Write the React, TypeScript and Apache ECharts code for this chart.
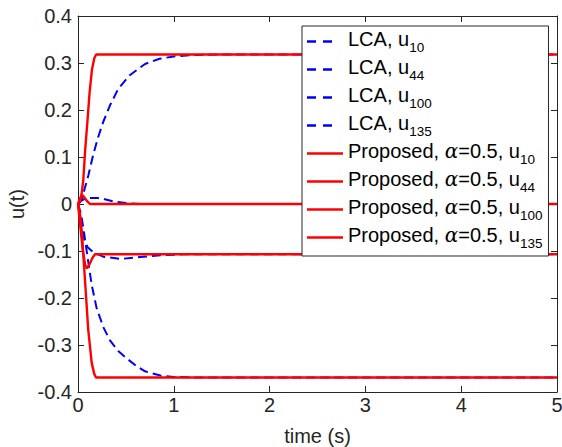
import React, { useEffect, useRef } from "react";
import * as echarts from "echarts";

// ---- data (time in s, value) ----
const lcaU10: [number, number][] = [
  [0, 0], [0.04, 0.01], [0.07, 0.033], [0.107, 0.06], [0.16, 0.106], [0.21, 0.142],
  [0.264, 0.175], [0.334, 0.21], [0.42, 0.245], [0.54, 0.274], [0.7, 0.298],
  [0.85, 0.309], [1.0, 0.314], [1.2, 0.317], [1.5, 0.318], [5, 0.318],
];
const lcaU44: [number, number][] = [
  [0, 0], [0.04, 0.008], [0.1, 0.013], [0.2, 0.013], [0.28, 0.01], [0.38, 0.005],
  [0.5, 0.002], [0.65, 0], [5, 0],
];
const lcaU100: [number, number][] = [
  [0, 0], [0.03, -0.035], [0.055, -0.07], [0.1, -0.092], [0.16, -0.103], [0.264, -0.112],
  [0.44, -0.117], [0.65, -0.113], [0.86, -0.109], [1.1, -0.107], [5, -0.107],
];
const lcaU135: [number, number][] = [
  [0, 0], [0.03, -0.02], [0.055, -0.05], [0.107, -0.123], [0.143, -0.172], [0.195, -0.222],
  [0.23, -0.242], [0.264, -0.262], [0.334, -0.29], [0.42, -0.313], [0.5, -0.327],
  [0.61, -0.345], [0.7, -0.356], [0.86, -0.365], [1.0, -0.368], [1.2, -0.369], [5, -0.369],
];
const propU10: [number, number][] = [
  [0, 0], [0.02, 0.005], [0.04, 0.025], [0.055, 0.05], [0.075, 0.115], [0.1, 0.18],
  [0.12, 0.235], [0.145, 0.285], [0.17, 0.31], [0.19, 0.318], [5, 0.318],
];
const propU44: [number, number][] = [
  [0, 0], [0.02, 0.012], [0.045, 0.019], [0.07, 0.013], [0.1, 0.005], [0.125, 0], [5, 0],
];
const propU100: [number, number][] = [
  [0, 0], [0.02, -0.04], [0.05, -0.098], [0.075, -0.13], [0.095, -0.137], [0.12, -0.128],
  [0.15, -0.115], [0.177, -0.107], [5, -0.107],
];
const propU135: [number, number][] = [
  [0, 0], [0.02, -0.02], [0.038, -0.055], [0.073, -0.162], [0.107, -0.268], [0.143, -0.338],
  [0.17, -0.362], [0.188, -0.369], [5, -0.369],
];

const subscripts = ["10", "44", "100", "135"];
const lcaNames = subscripts.map((s) => `LCA, u${s}`);
const propNames = subscripts.map((s) => `Proposed, α=0.5, u${s}`);
const lcaData = [lcaU10, lcaU44, lcaU100, lcaU135];
const propData = [propU10, propU44, propU100, propU135];

const xMin = 0, xMax = 5, xInterval = 1;
const yMin = -0.4, yMax = 0.4, yInterval = 0.1;

const SANS = "'Liberation Sans', Arial, Helvetica, sans-serif";
const AXIS_COLOR = "#262626";
const BLUE = "#0000FF";
const RED = "#FF0000";

const DASH_ICON = "path://M0,0h9v2h-9z M16,0h9v2h-9z M36,0h0.01v0.01h-0.01z";
const SOLID_ICON = "path://M0,0h36v2h-36z";

const legendLabel: Record<string, string> = {};
subscripts.forEach((s, i) => {
  legendLabel[lcaNames[i]] = `{m|LCA, u}{s|${s}}`;
  legendLabel[propNames[i]] = `{m|Proposed, }{g|α}{m|=0.5, u}{s|${s}}`;
});

export default function App() {
  const ref = useRef<HTMLDivElement>(null);
  useEffect(() => {
    const chart = echarts.init(ref.current!, null, { renderer: "svg" });
    const series: any[] = [];
    lcaData.forEach((d, i) =>
      series.push({
        name: lcaNames[i],
        type: "line",
        data: d,
        symbol: "none",
        showSymbol: false,
        z: 2,
        itemStyle: { color: BLUE },
        lineStyle: { color: BLUE, width: 2, type: [9, 5] },
      })
    );
    propData.forEach((d, i) =>
      series.push({
        name: propNames[i],
        type: "line",
        data: d,
        symbol: "none",
        showSymbol: false,
        z: 3,
        itemStyle: { color: RED },
        lineStyle: { color: RED, width: 2.4 },
      })
    );
    const axisLine = { show: true, onZero: false, lineStyle: { color: AXIS_COLOR, width: 1 } };
    const axisTick = { show: true, inside: true, length: 6, lineStyle: { color: AXIS_COLOR } };
    chart.setOption({
      animation: false,
      backgroundColor: "#ffffff",
      grid: { left: 78, right: 5, top: 16, bottom: 55, containLabel: false, outerBoundsMode: "none" },
      xAxis: [
        {
          type: "value", min: xMin, max: xMax, interval: xInterval,
          name: "time (s)", nameLocation: "middle", nameGap: 34,
          nameTextStyle: { fontSize: 20, fontFamily: SANS, color: AXIS_COLOR },
          axisLine, axisTick, splitLine: { show: false },
          axisLabel: { fontSize: 20, fontFamily: SANS, color: AXIS_COLOR, margin: 3 },
        },
        {
          type: "value", position: "top", min: xMin, max: xMax, interval: xInterval,
          axisLine, axisTick, splitLine: { show: false }, axisLabel: { show: false },
        },
      ],
      yAxis: [
        {
          type: "value", min: yMin, max: yMax, interval: yInterval,
          name: "u(t)", nameLocation: "middle", nameGap: 50,
          nameTextStyle: { fontSize: 20, fontFamily: SANS, color: AXIS_COLOR },
          axisLine, axisTick, splitLine: { show: false },
          axisLabel: { fontSize: 20, fontFamily: SANS, color: AXIS_COLOR, margin: 6 },
        },
        {
          type: "value", position: "right", min: yMin, max: yMax, interval: yInterval,
          axisLine, axisTick, splitLine: { show: false }, axisLabel: { show: false },
        },
      ],
      legend: {
        orient: "vertical",
        left: 302,
        top: 26,
        itemWidth: 36,
        itemHeight: 2.4,
        itemGap: 3,
        symbolKeepAspect: false,
        padding: [3, 6, 6, 5],
        backgroundColor: "#ffffff",
        borderColor: AXIS_COLOR,
        borderWidth: 1,
        borderRadius: 0,
        itemStyle: { borderWidth: 0 },
        data: [
          ...lcaNames.map((n) => ({ name: n, icon: DASH_ICON })),
          ...propNames.map((n) => ({ name: n, icon: SOLID_ICON })),
        ],
        formatter: (name: string) => legendLabel[name] || name,
        textStyle: {
          color: "#000",
          fontFamily: SANS,
          fontSize: 20,
          rich: {
            m: { fontSize: 20, fontFamily: SANS, color: "#000", lineHeight: 20, verticalAlign: "top" },
            g: { fontSize: 20, fontFamily: "'DejaVu Serif', serif", fontStyle: "italic", color: "#000", lineHeight: 20, verticalAlign: "top" },
            s: { fontSize: 13.5, fontFamily: SANS, color: "#000", lineHeight: 25, verticalAlign: "bottom" },
          },
        },
      },
      series,
    });
    return () => chart.dispose();
  }, []);
  return <div ref={ref} style={{ position: "absolute", left: 0, top: 0, width: 562, height: 447 }} />;
}
